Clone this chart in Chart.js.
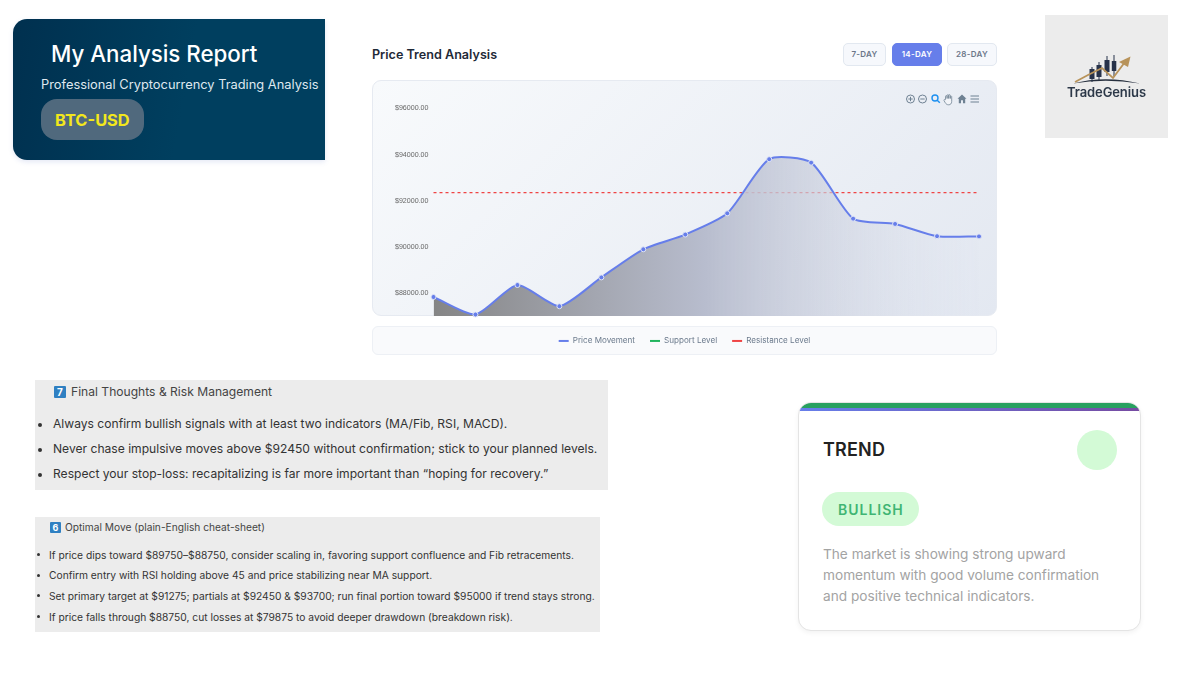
<!DOCTYPE html>
<html>
<head>
<meta charset="utf-8">
<title>My Analysis Report</title>
<script src="https://cdn.jsdelivr.net/npm/chart.js@4"></script>
<style>
  html, body { margin: 0; padding: 0; background: #fff; width: 1200px; height: 675px; overflow: hidden; font-family: Inter, "Noto Sans", sans-serif; }
  .abs { position: absolute; white-space: nowrap; line-height: 1; }
  .box { position: absolute; box-sizing: border-box; }

  #hero { left: 13px; top: 19px; width: 312px; height: 141px; border-radius: 14px 0 0 14px; background: linear-gradient(100deg, #00304f, #003f5f 55%); box-shadow: 0 2px 5px rgba(90,110,190,.16); }
  #pill { left: 41px; top: 99px; width: 103px; height: 41px; border-radius: 16px; background: #50697d; }

  .btn { position: absolute; top: 43px; height: 23px; box-sizing: border-box; border: 1px solid #e2e8f0; border-radius: 5px; background: #f6f8fc; color: #6b7688; font-size: 8px; font-weight: 600; letter-spacing: .3px; text-align: center; line-height: 21px; }
  .btn.on { background: #667eea; border-color: #667eea; color: #fff; }

  #panel { left: 372px; top: 80px; width: 625px; height: 236px; border-radius: 9px; border: 1px solid #e6eaf1; background: linear-gradient(135deg, #f8fafc, #e3e8f1); }
  #legendBox { left: 372px; top: 326px; width: 625px; height: 29px; border-radius: 6px; border: 1px solid #edf0f5; background: #f9fafc; }
  #chartWrap { position: absolute; left: 372px; top: 80px; width: 625px; height: 275px; }

  #logo { left: 1045px; top: 15px; width: 123px; height: 123px; background: #ececec; }

  .grey { background: #ececec; }
  .key { position: absolute; background: #2f80c2; color: #fff; font-weight: 700; text-align: center; border-radius: 1px; }
  .dot { position: absolute; width: 4px; height: 4px; border-radius: 50%; background: #333; }

  #card { left: 798px; top: 402px; width: 343px; height: 229px; border-radius: 13px; border: 1px solid #e4e4e4; background: #fff; box-shadow: 0 2px 5px rgba(0,0,0,.05); overflow: hidden; }
  #barGreen { left: 0; top: 0; width: 100%; height: 5px; background: #27a05f; }
  #barGrad { left: 0; top: 5px; width: 100%; height: 3px; background: linear-gradient(90deg, #667eea, #764ba2); }
  #circle { left: 1077px; top: 430px; width: 40px; height: 40px; border-radius: 50%; background: #d3fad6; }
  #bullish { left: 822px; top: 492px; width: 97px; height: 34px; border-radius: 17px; background: #d3fad6; }
</style>
</head>
<body>

<div id="hero" class="box"></div>
<div class="abs" style="left:51px;top:43px;font-size:22.3px;font-weight:500;color:#fff">My Analysis Report</div>
<div class="abs" style="left:41px;top:79px;font-size:12.85px;color:#dfe8ef">Professional Cryptocurrency Trading Analysis</div>
<div id="pill" class="box"></div>
<div class="abs" style="left:55px;top:112px;font-size:16.4px;font-weight:700;color:#f2e71c">BTC-USD</div>

<div class="abs" style="left:372px;top:49px;font-size:12.6px;font-weight:600;color:#1f2937">Price Trend Analysis</div>
<div class="btn" style="left:843px;width:43px">7-DAY</div>
<div class="btn on" style="left:892px;width:50px">14-DAY</div>
<div class="btn" style="left:947px;width:50px">28-DAY</div>

<div id="panel" class="box"></div>
<div id="legendBox" class="box"></div>
<div id="chartWrap"><canvas id="priceChart"></canvas></div>

<svg class="box" style="left:900px;top:90px" width="85" height="18" viewBox="0 0 85 18">
  <g fill="none" stroke="#6e8192" stroke-width="1">
    <circle cx="10.5" cy="9" r="4"/><path d="M10.5 6.8v4.4M8.3 9h4.4"/>
    <circle cx="22.5" cy="9" r="4"/><path d="M20.3 9h4.4"/>
  </g>
  <g fill="none" stroke="#1e90f0" stroke-width="1.4"><circle cx="35" cy="8" r="3"/><path d="M37.2 10.2l2.6 2.6"/></g>
  <path d="M45.5 9.5v-3a.8.8 0 0 1 1.6 0v2-3a.8.8 0 0 1 1.6 0v3-3a.8.8 0 0 1 1.6 0v3l0-2a.8.8 0 0 1 1.4 0v5c0 2-1.2 3.3-3 3.3s-2.6-.8-3.4-2l-1.3-2.3c-.4-.8.6-1.4 1.2-.7z" fill="#f2f4f8" stroke="#6e8192" stroke-width=".8"/>
  <path d="M62 4.5l4.5 4.3h-1.3v4.4h-2.2v-3h-2v3h-2.2V8.8h-1.3z" fill="#6e8192"/>
  <path d="M70.5 6h8.5M70.5 9h8.5M70.5 12h8.5" stroke="#6e8192" stroke-width="1.1"/>
</svg>

<div id="logo" class="box"></div>
<svg class="box" style="left:1045px;top:15px" width="123" height="123" viewBox="0 0 123 123">
  <path d="M28 68.5 Q 60 60 95 68.5 Q 60 63 28 68.5z" fill="#27303f"/>
  <g stroke="#27324a" stroke-width="1"><path d="M47 52v15M54 47v18M62 41v20M69 40v21"/></g>
  <g fill="#27324a"><rect x="44.5" y="54" width="5" height="10"/><rect x="51.5" y="50" width="5" height="12"/><rect x="59.5" y="45" width="5" height="12"/><rect x="66.8" y="46" width="4.5" height="10"/></g>
  <path d="M30 67 L43 60 L57 53 L68 63 L80 47" fill="none" stroke="#b8935a" stroke-width="1.8"/>
  <path d="M85.5 41.5 L74 47 L83 52z" fill="#b8935a"/>
</svg>
<div class="abs" style="left:1067px;top:86px;font-size:13px;font-weight:600;color:#2c3848;letter-spacing:-.1px">TradeGenius</div>

<div class="box grey" style="left:35px;top:380px;width:573px;height:110px"></div>
<div class="key" style="left:54px;top:386px;width:12px;height:12px;font-size:10px;line-height:12px">7</div>
<div class="abs" style="left:71px;top:386px;font-size:12.1px;color:#444">Final Thoughts &amp; Risk Management</div>
<div class="dot" style="left:38px;top:423px"></div>
<div class="abs" style="left:53px;top:418px;font-size:12.1px;color:#333">Always confirm bullish signals with at least two indicators (MA/Fib, RSI, MACD).</div>
<div class="dot" style="left:38px;top:448px"></div>
<div class="abs" style="left:53px;top:443px;font-size:12.1px;color:#333">Never chase impulsive moves above $92450 without confirmation; stick to your planned levels.</div>
<div class="dot" style="left:38px;top:473px"></div>
<div class="abs" style="left:53px;top:468px;font-size:12.1px;color:#333">Respect your stop-loss: recapitalizing is far more important than “hoping for recovery.”</div>

<div class="box grey" style="left:35px;top:517px;width:565px;height:115px"></div>
<div class="key" style="left:50px;top:522px;width:11px;height:11px;font-size:9px;line-height:11px">6</div>
<div class="abs" style="left:65px;top:521.5px;font-size:10.2px;color:#444">Optimal Move (plain-English cheat-sheet)</div>
<div class="dot" style="left:37px;top:553px;width:3px;height:3px"></div>
<div class="abs" style="left:49px;top:549.5px;font-size:10.25px;color:#333">If price dips toward $89750–$88750, consider scaling in, favoring support confluence and Fib retracements.</div>
<div class="dot" style="left:37px;top:574px;width:3px;height:3px"></div>
<div class="abs" style="left:49px;top:569.5px;font-size:10.25px;color:#333">Confirm entry with RSI holding above 45 and price stabilizing near MA support.</div>
<div class="dot" style="left:37px;top:594px;width:3px;height:3px"></div>
<div class="abs" style="left:49px;top:590.5px;font-size:10.25px;color:#333">Set primary target at $91275; partials at $92450 &amp; $93700; run final portion toward $95000 if trend stays strong.</div>
<div class="dot" style="left:37px;top:615px;width:3px;height:3px"></div>
<div class="abs" style="left:49px;top:611.5px;font-size:10.25px;color:#333">If price falls through $88750, cut losses at $79875 to avoid deeper drawdown (breakdown risk).</div>

<div id="card" class="box">
  <div id="barGreen" class="box"></div>
  <div id="barGrad" class="box"></div>
</div>
<div class="abs" style="left:823px;top:441px;font-size:18px;font-weight:600;letter-spacing:.2px;color:#222">TREND</div>
<div id="circle" class="box"></div>
<div id="bullish" class="box"></div>
<div class="abs" style="left:838px;top:503px;font-size:14px;font-weight:600;letter-spacing:1px;color:#3fb573">BULLISH</div>
<div class="abs" style="left:823px;top:548px;font-size:13.65px;color:#a3a3a3">The market is showing strong upward</div>
<div class="abs" style="left:823px;top:569px;font-size:13.65px;color:#a3a3a3">momentum with good volume confirmation</div>
<div class="abs" style="left:823px;top:590px;font-size:13.65px;color:#a3a3a3">and positive technical indicators.</div>

<script>
// values
var days = ['D1','D2','D3','D4','D5','D6','D7','D8','D9','D10','D11','D12','D13','D14'];
var priceValues = [87820, 87060, 88340, 87420, 88670, 89890, 90530, 91450, 93800, 93650, 91220, 90990, 90460, 90450];
var resistanceValues = [92350, 92350, 92350, 92350, 92350, 92350, 92350, 92350, 92350, 92350, 92350, 92350, 92350, 92350];
// listed in the legend but no line shows inside the plotted range
var supportValues = [];
var yTicks = [88000, 90000, 92000, 94000, 96000];

function priceFill(context) {
  var area = context.chart.chartArea;
  if (!area) return 'rgba(0,0,0,0)';
  var grad = context.chart.ctx.createLinearGradient(area.left, 0, area.right, 0);
  grad.addColorStop(0, '#858585');
  grad.addColorStop(0.5, '#b8bdce');
  grad.addColorStop(1, 'rgba(225,230,241,0.2)');
  return grad;
}

var priceCtx = document.getElementById('priceChart').getContext('2d');
new Chart(priceCtx, {
  type: 'line',
  data: {
    labels: days,
    datasets: [{
      label: 'Price Movement',
      data: priceValues,
      borderColor: '#667eea',
      borderWidth: 2,
      tension: 0.22,
      fill: 'start',
      backgroundColor: priceFill,
      pointRadius: 2.5,
      pointBorderWidth: 1,
      pointBackgroundColor: '#667eea',
      pointBorderColor: '#dfe4f5',
      clip: false
    }, {
      label: 'Support Level',
      data: supportValues,
      borderColor: '#22b55e',
      backgroundColor: '#22b55e',
      borderWidth: 1.5,
      pointRadius: 0
    }, {
      label: 'Resistance Level',
      data: resistanceValues,
      borderColor: '#ef4444',
      backgroundColor: '#ef4444',
      borderWidth: 1.2,
      borderDash: [3, 3],
      pointRadius: 0
    }]
  },
  options: {
    responsive: true,
    maintainAspectRatio: false,
    animation: false,
    layout: { padding: { top: 28.5, right: 18, left: 18, bottom: 0 } },
    scales: {
      x: {
        offset: false,
        grid: { display: false },
        border: { display: false },
        ticks: { display: false },
        afterFit: function (scale) { scale.height = 6; }
      },
      y: {
        min: 87000,
        max: 96000,
        grid: { display: false, drawTicks: false },
        border: { display: false },
        afterBuildTicks: function (scale) {
          scale.ticks = yTicks.map(function (v) { return { value: v }; });
        },
        afterFit: function (scale) { scale.width = 43.5; },
        ticks: {
          padding: 5,
          color: '#666',
          font: { family: 'Liberation Sans', size: 7.1 },
          callback: function (v) { return '$' + v.toFixed(2); }
        }
      }
    },
    plugins: {
      title: { display: false },
      legend: {
        position: 'bottom',
        labels: {
          usePointStyle: true,
          pointStyle: 'line',
          pointStyleWidth: 10,
          padding: 15,
          color: '#6b7a8c',
          font: { family: 'Inter', size: 8.1 },
          generateLabels: function (chart) {
            return Chart.defaults.plugins.legend.labels.generateLabels(chart).map(function (item) {
              item.strokeStyle = chart.data.datasets[item.datasetIndex].borderColor;
              item.lineDash = [];
              item.lineWidth = 2;
              return item;
            });
          }
        }
      }
    }
  }
});
</script>
</body>
</html>
